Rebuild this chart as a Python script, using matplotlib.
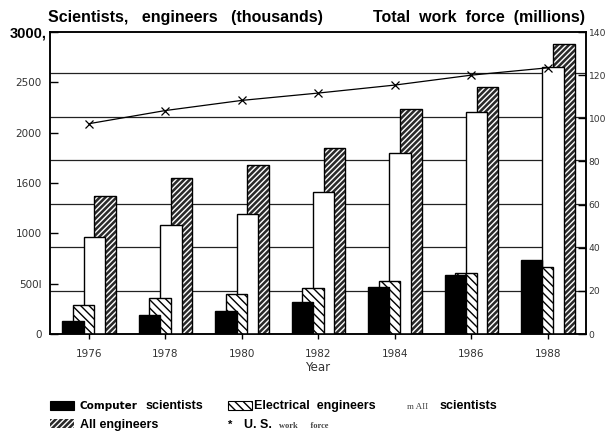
import numpy as np
import matplotlib.pyplot as plt
from matplotlib.patches import Rectangle

years = ['1976', '1978', '1980', '1982', '1984', '1986', '1988']
computer_sci = [129, 189, 228, 321, 464, 586, 735]
electrical_eng = [291, 358, 397, 460, 526, 603, 663]
all_sci = [967, 1080, 1192, 1414, 1795, 2202, 2649]
all_eng = [1374, 1547, 1679, 1851, 2232, 2457, 2878]
work_force = [97.5, 103.6, 108.3, 111.7, 115.4, 120.0, 123.4]

left_ticks = [0, 500, 1000, 1500, 2000, 2500, 3000]
left_labels = ['0', '500I', '1000', '1600', '2000', '2500', '']
right_ticks = [0, 20, 40, 60, 80, 100, 120, 140]

W, H = 609, 434
fig = plt.figure(figsize=(W / 100, H / 100), dpi=100)
ax = fig.add_axes([50 / W, 1 - 334 / H, 536 / W, 302 / H])
ax2 = ax.twinx()

x = np.arange(len(years))
s = 0.14
w = 0.28
left_top = 3000
right_top = 139

# gridlines follow the right-hand scale
for t in right_ticks[1:-1]:
    ax.axhline(t * left_top / right_top, color='#222', lw=0.9, zorder=1)

# all engineers (back): dark with white diagonal stripes
ax.bar(x + 1.5 * s, all_eng, w, color='#2a2a2a', edgecolor='white',
       hatch='//////', lw=0, zorder=2)
ax.bar(x + 1.5 * s, all_eng, w, fill=False, edgecolor='black', lw=1, zorder=2.1)
# all scientists: white
ax.bar(x + 0.5 * s, all_sci, w, color='white', edgecolor='black', lw=1, zorder=3)
# electrical engineers
ax.bar(x - 0.5 * s, electrical_eng, w, color='white', edgecolor='black',
       hatch='\\\\\\\\', lw=1, zorder=4)
# computer scientists (front)
ax.bar(x - 1.5 * s, computer_sci, w, color='black', edgecolor='black', lw=1, zorder=5)

ax.set_xlim(-0.51, 6.5)
ax.set_ylim(0, left_top)
ax.set_xticks(x)
ax.set_xticklabels(years)
ax.set_yticks(left_ticks)
ax.set_yticklabels(left_labels)
ax.tick_params(axis='y', direction='in', length=6, width=1, pad=6,
               labelsize=7.5, labelcolor='#333')
ax.tick_params(axis='x', direction='inout', length=7, width=1, pad=7,
               labelsize=7.5, labelcolor='#333')
ax.set_xlabel('Year', fontsize=8.5, color='#333', labelpad=1.5)

ax2.plot(x, work_force, color='black', lw=0.9, marker='x', ms=6, mew=0.9, zorder=6)
ax2.set_ylim(0, right_top)
ax2.set_yticks(right_ticks)
ax2.tick_params(axis='y', direction='in', length=6, width=1, pad=2,
                labelsize=6.6, labelcolor='#333')

for a in (ax, ax2):
    for sp in a.spines.values():
        sp.set_linewidth(1.1)
        sp.set_color('black')

fig.text(48 / W, 1 - 22 / H, 'Scientists,   engineers   (thousands)',
         fontsize=11.5, fontweight='bold', family='Liberation Sans', va='baseline')
fig.text(585 / W, 1 - 22 / H, 'Total  work  force  (millions)',
         fontsize=11.5, fontweight='bold', family='Liberation Sans', va='baseline', ha='right')
fig.text(47 / W, 1 - 37 / H, '3000,', fontsize=10.5, fontweight='bold',
         family='Liberation Sans', va='baseline', ha='right')

# legend keys and labels
def key(x0, y0, **kw):
    fig.patches.append(Rectangle((x0 / W, 1 - y0 / H), 24 / W, 9 / H,
                                 transform=fig.transFigure, **kw))

key(50, 410, facecolor='black', edgecolor='black', lw=0.8)
key(228, 410, facecolor='white', edgecolor='black', hatch='\\\\\\\\', lw=0.8)
key(50, 428, facecolor='#2a2a2a', edgecolor='white', hatch='//////', lw=0)

fig.text(80 / W, 1 - 409 / H, 'Computer', fontsize=7.5, fontweight='bold',
         family='DejaVu Sans', va='baseline')
fig.text(146 / W, 1 - 409 / H, 'scientists', fontsize=9, fontweight='bold',
         family='Liberation Sans', va='baseline')
fig.text(254 / W, 1 - 409 / H, 'Electrical  engineers', fontsize=9, fontweight='bold',
         family='Liberation Sans', va='baseline')
fig.text(407 / W, 1 - 409 / H, 'm AII', fontsize=6.5, color='#444',
         family='Liberation Serif', va='baseline')
fig.text(440 / W, 1 - 409 / H, 'scientists', fontsize=9, fontweight='bold',
         family='Liberation Sans', va='baseline')
fig.text(80 / W, 1 - 428 / H, 'All engineers', fontsize=9, fontweight='bold',
         family='Liberation Sans', va='baseline')
fig.text(228 / W, 1 - 428 / H, '*', fontsize=8, fontweight='bold',
         family='Liberation Sans', va='baseline')
fig.text(244 / W, 1 - 428 / H, 'U. S.', fontsize=9, fontweight='bold',
         family='Liberation Sans', va='baseline')
fig.text(279 / W, 1 - 428 / H, 'work      force', fontsize=6, fontweight='bold', color='#444',
         family='Liberation Serif', va='baseline')

fig.savefig('out.png', dpi=100)
